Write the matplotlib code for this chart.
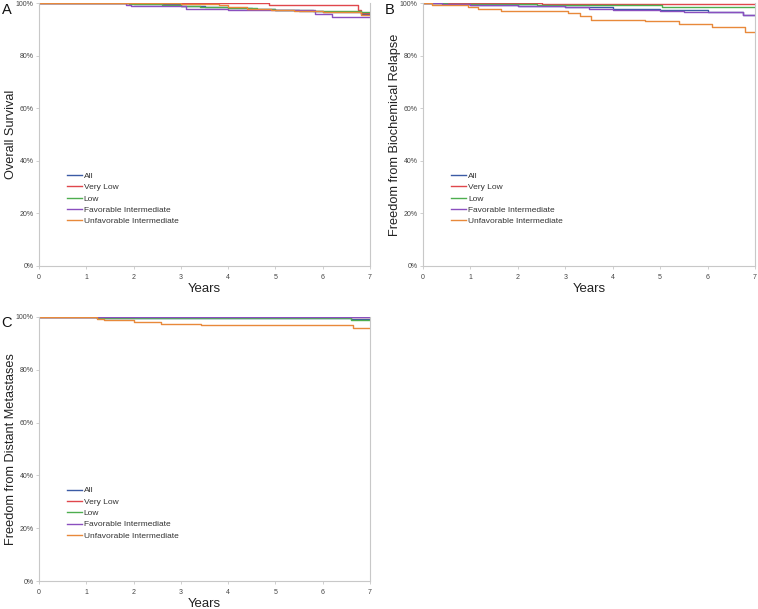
import matplotlib
matplotlib.use("Agg")
import matplotlib.pyplot as plt
from matplotlib.ticker import FuncFormatter

plt.rcParams['font.family'] = ['Liberation Sans', 'DejaVu Sans']

series_names = ["All", "Very Low", "Low", "Favorable Intermediate", "Unfavorable Intermediate"]
series_colors = ["#3b5ba5", "#e0474c", "#4dae4f", "#8a4fbf", "#e8893a"]

# Panel A: Overall Survival
a_all_t = [0, 2.0, 3.0, 3.5, 4.0, 4.5, 5.0, 5.5, 6.0, 6.8, 7]
a_all_s = [100, 99.6, 99.0, 98.5, 98.0, 97.6, 97.2, 96.8, 96.5, 96.0, 96.0]
a_vlow_t = [0, 4.87, 6.74, 6.8, 7]
a_vlow_s = [100, 99.1, 97.5, 96.3, 96.3]
a_low_t = [0, 1.9, 2.6, 3.0, 3.4, 4.0, 4.6, 5.0, 5.8, 6.8, 7]
a_low_s = [100, 99.7, 99.4, 99.0, 98.6, 98.0, 97.6, 97.2, 96.8, 96.4, 96.4]
a_fav_t = [0, 1.85, 1.95, 3.1, 4.0, 5.83, 6.2, 7]
a_fav_s = [100, 99.4, 98.9, 97.8, 97.5, 95.7, 94.5, 94.5]
a_unf_t = [0, 3.0, 3.8, 4.0, 4.4, 4.9, 5.4, 6.0, 6.8, 7]
a_unf_s = [100, 99.7, 99.2, 98.3, 97.8, 97.2, 96.8, 96.5, 95.6, 95.6]

# Panel B: Freedom from Biochemical Relapse
b_all_t = [0, 0.5, 1.0, 2.0, 3.0, 4.0, 5.0, 6.0, 6.74, 7]
b_all_s = [100, 99.6, 99.3, 99.0, 98.5, 97.9, 97.2, 96.6, 95.6, 95.6]
b_vlow_t = [0, 2.5, 3.3, 7]
b_vlow_s = [100, 99.8, 99.5, 99.5]
b_low_t = [0, 0.5, 2.4, 2.7, 5.04, 7]
b_low_s = [100, 99.8, 99.4, 99.1, 98.4, 98.4]
b_fav_t = [0, 0.4, 1.0, 2.0, 3.0, 3.5, 4.0, 5.0, 5.5, 6.0, 6.74, 7]
b_fav_s = [100, 99.5, 99.3, 99.0, 98.3, 97.8, 97.4, 96.9, 96.6, 96.4, 95.3, 95.3]
b_unf_t = [0, 0.2, 0.94, 1.15, 1.64, 3.06, 3.3, 3.55, 4.68, 5.4, 6.1, 6.79, 7]
b_unf_s = [100, 99.3, 98.4, 97.8, 96.9, 96.2, 95.2, 93.6, 93.0, 92.1, 91.0, 88.8, 88.8]

# Panel C: Freedom from Distant Metastases
c_all_t = [0, 1.23, 6.6, 7]
c_all_s = [100, 99.6, 99.1, 99.1]
c_vlow_t = [0, 7]
c_vlow_s = [100, 100]
c_low_t = [0, 1.23, 3.4, 6.6, 7]
c_low_s = [100, 99.6, 99.5, 99.0, 99.0]
c_fav_t = [0, 7]
c_fav_s = [100, 100]
c_unf_t = [0, 1.23, 1.37, 2.0, 2.57, 3.43, 6.65, 7]
c_unf_s = [100, 99.3, 99.0, 98.2, 97.5, 96.8, 95.9, 95.9]

panels = [
    ("A", "Overall Survival",
     [(a_all_t, a_all_s), (a_vlow_t, a_vlow_s), (a_low_t, a_low_s), (a_fav_t, a_fav_s), (a_unf_t, a_unf_s)]),
    ("B", "Freedom from Biochemical Relapse",
     [(b_all_t, b_all_s), (b_vlow_t, b_vlow_s), (b_low_t, b_low_s), (b_fav_t, b_fav_s), (b_unf_t, b_unf_s)]),
    ("C", "Freedom from Distant Metastases",
     [(c_all_t, c_all_s), (c_vlow_t, c_vlow_s), (c_low_t, c_low_s), (c_fav_t, c_fav_s), (c_unf_t, c_unf_s)]),
]

x_ticks = [0, 1, 2, 3, 4, 5, 6, 7]
y_ticks = [0, 20, 40, 60, 80, 100]

W, H = 758, 609
fig = plt.figure(figsize=(W / 100, H / 100), dpi=100)

# axes rectangles in pixels: left, top, right, bottom ; ylabel right-edge x (px); letter position (px)
rects = [(39, 3, 370, 266), (423, 3, 755, 266), (39, 317, 370, 581)]
ylabel_x = [17, 401, 17]
letter_pos = [(7, 10), (390, 10), (7, 323)]

spine_col = "#c8c8c8"
for (letter, ylabel, data), (l, t, r, b), ylx, (lx, ly) in zip(panels, rects, ylabel_x, letter_pos):
    ax = fig.add_axes([l / W, 1 - b / H, (r - l) / W, (b - t) / H])
    for name, col, (ts, ss) in zip(series_names, series_colors, data):
        ax.step(ts, ss, where="post", color=col, lw=1.0, label=name)
    ax.set_xlim(0, 7)
    ax.set_ylim(0, 100)
    ax.set_xticks(x_ticks)
    ax.set_yticks(y_ticks)
    ax.yaxis.set_major_formatter(FuncFormatter(lambda v, p: f"{int(v)}%"))
    ax.tick_params(axis="both", labelsize=5, colors=spine_col, labelcolor="#444444",
                   length=2.5, width=0.6, pad=1.5)
    ax.tick_params(axis="x", pad=3)
    for side in ["left", "bottom", "right"]:
        ax.spines[side].set_color(spine_col)
        ax.spines[side].set_linewidth(0.8)
    ax.spines["top"].set_visible(False)
    ax.set_xlabel("Years", fontsize=9.5, labelpad=1.5, color="#222222")
    ax.set_ylabel(ylabel, fontsize=9.2, color="#222222")
    ax.yaxis.set_label_coords((ylx - l) / (r - l), 0.5)
    leg = ax.legend(loc="upper left", bbox_to_anchor=(0.075, 0.37), frameon=False,
                    fontsize=6, handlelength=1.75, handletextpad=0.25,
                    labelspacing=0.42, borderaxespad=0)
    for txt in leg.get_texts():
        txt.set_color("#333333")
    fig.text(lx / W, 1 - ly / H, letter, fontsize=10.5, ha="center", va="center",
             color="#111111")

fig.savefig("out.png", dpi=100)
